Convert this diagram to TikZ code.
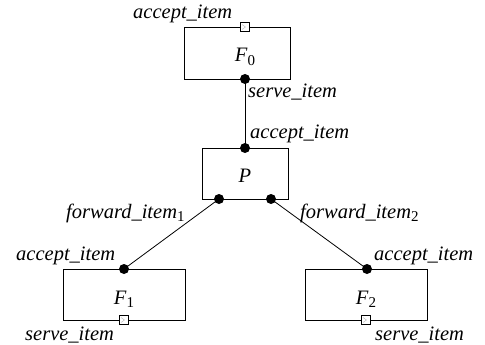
\documentclass[tikz,border=0pt]{standalone}
\usepackage{fontspec}
\setmainfont{Liberation Serif}
\newcommand{\sbs}[1]{\raisebox{-0.4ex}{\upshape\fontsize{15}{17}\selectfont #1}}
\begin{document}
\begin{tikzpicture}[x=1pt,y=-1pt,
  comp/.style={draw,line width=0.8pt,minimum width=106pt,minimum height=52pt,inner sep=0pt},
  lbl/.style={font=\fontsize{20.5}{24}\selectfont\itshape,inner sep=0pt},
  dotport/.style={fill=black,circle,inner sep=0pt,minimum size=10pt},
  sqport/.style={draw,fill=white,line width=0.6pt,inner sep=0pt,minimum size=9pt},
  conn/.style={line width=0.8pt}]
\useasboundingbox (0,0) rectangle (485,345);
% boxes
\node[comp] (F0) at (237,53) {};
\node[comp,minimum width=86pt,minimum height=51pt] (P) at (245,173.5) {};
\node[comp,minimum width=122pt,minimum height=51pt] (F1) at (124,294.5) {};
\node[comp,minimum width=122pt,minimum height=51pt] (F2) at (366,294.5) {};
% box labels
\node[lbl,anchor=base] (tF0) at (245,62) {F\sbs{0}};
\node[lbl,anchor=base] (tP) at (245,182) {P};
\node[lbl,anchor=base] (tF1) at (124,304) {F\sbs{1}};
\node[lbl,anchor=base] (tF2) at (366,304) {F\sbs{2}};
% connectors
\coordinate (F0b) at (245,79);
\coordinate (Pt) at (245,148);
\coordinate (Pl) at (219,199);
\coordinate (Pr) at (271,199);
\coordinate (F1t) at (124,269);
\coordinate (F2t) at (367,269);
\draw[conn] (F0b) -- (Pt);
\draw[conn] (Pl) -- (F1t);
\draw[conn] (Pr) -- (F2t);
% ports
\node[dotport] (pF0b) at (F0b) {};
\node[dotport] (pPt) at (Pt) {};
\node[dotport] (pPl) at (Pl) {};
\node[dotport] (pPr) at (Pr) {};
\node[dotport] (pF1t) at (F1t) {};
\node[dotport] (pF2t) at (F2t) {};
\node[sqport] (sF0) at (245,27) {};
\node[sqport] (sF1) at (124,320) {};
\node[sqport] (sF2) at (366,320) {};
\foreach \s in {sF0,sF1,sF2}{
  \draw[gray!60,line width=0.4pt] ([xshift=-3pt,yshift=2.5pt]\s.center) -- ([xshift=0.5pt]\s.center) -- ([xshift=-3pt,yshift=-2.5pt]\s.center);
}
% port labels
\node[lbl,anchor=base west] (l1) at (133,19) {accept\_item};
\node[lbl,anchor=base west] (l2) at (248,97) {serve\_item};
\node[lbl,anchor=base west] (l3) at (250,139) {accept\_item};
\node[lbl,anchor=base west] (l4) at (66,218) {forward\_item\sbs{1}};
\node[lbl,anchor=base west] (l5) at (300,218) {forward\_item\sbs{2}};
\node[lbl,anchor=base west] (l6) at (16,260) {accept\_item};
\node[lbl,anchor=base west] (l7) at (25,340) {serve\_item};
\node[lbl,anchor=base west] (l8) at (374,260) {accept\_item};
\node[lbl,anchor=base west] (l9) at (375,340) {serve\_item};
\end{tikzpicture}
\end{document}
